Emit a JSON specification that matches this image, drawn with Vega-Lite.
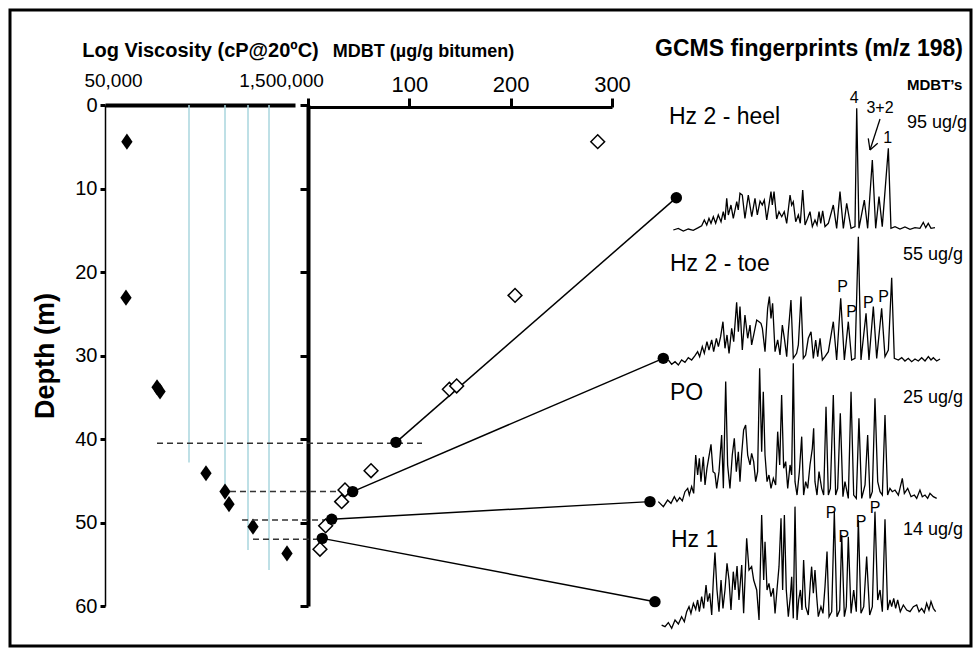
{
"$schema": "https://vega.github.io/schema/vega-lite/v6.json",
"width": 961, "height": 636,
"autosize": {"type": "none"},
"padding": {"left": 10, "top": 10, "right": 7, "bottom": 2},
"background": "white",
"config": {
  "view": {"stroke": "black", "strokeWidth": 3},
  "font": "Liberation Sans",
  "axis": {"grid": false, "labelColor": "black", "titleColor": "black", "domainColor": "black", "tickColor": "black", "labelFont": "Liberation Sans", "titleFont": "Liberation Sans"},
  "text": {"font": "Liberation Sans", "color": "black"}
},
"datasets": {
  "visc": [{"v":74000,"d":4.39},{"v":72800,"d":23.07},{"v":126900,"d":33.8},{"v":133900,"d":34.3},{"v":304900,"d":44.1},{"v":428500,"d":46.3},{"v":460300,"d":47.8},{"v":707300,"d":50.5},{"v":1299700,"d":53.7}],
  "blue": [{"v":224900,"d0":0,"d":42.8},{"v":428500,"d0":0,"d":46.8},{"v":646700,"d0":0,"d":53.3},{"v":941900,"d0":0,"d":55.7}],
  "dashed": [{"m":-149,"m2":112.5,"d":40.5},{"m":-77,"m2":44.1,"d":46.3},{"m":-65.1,"m2":23.4,"d":49.7},{"m":-54.3,"m2":14.1,"d":52.0}],
  "open": [{"m":285.9,"d":4.39},{"m":204.3,"d":22.8},{"m":139.5,"d":34.05},{"m":146.7,"d":33.65},{"m":62.2,"d":43.8},{"m":36.5,"d":46.1},{"m":33.2,"d":47.5},{"m":17.4,"d":50.4},{"m":11.8,"d":53.2}],
  "filled": [{"m":86.8,"d":40.4},{"m":44.1,"d":46.3},{"m":23.4,"d":49.6},{"m":14.1,"d":51.9},{"m":363.5,"d":11.1},{"m":350.6,"d":30.34},{"m":337.5,"d":47.5},{"m":342.4,"d":59.48}],
  "conn": [{"m":86.8,"d":40.4,"m2":363.5,"d2":11.1},{"m":44.1,"d":46.3,"m2":350.6,"d2":30.34},{"m":23.4,"d":49.6,"m2":337.5,"d2":47.5},{"m":14.1,"d":51.9,"m2":342.4,"d2":59.48}],
  "arrow": [{"m":564.5,"d":1.68,"m2":554.6,"d2":5.39},{"m":554.6,"d":5.39,"m2":552.9,"d2":3.99},{"m":554.6,"d":5.39,"m2":562.2,"d2":4.59}],
  "big": [{"m":356.2,"d":1.4,"txt":"Hz 2 - heel"},{"m":357.2,"d":19.08,"txt":"Hz 2 - toe"},{"m":357.2,"d":34.53,"txt":"PO"},{"m":358.2,"d":52.1,"txt":"Hz 1"}],
  "conc": [{"m":591.1,"d":2.2,"txt":"95 ug/g"},{"m":587.2,"d":17.96,"txt":"55 ug/g"},{"m":587.2,"d":35.13,"txt":"25 ug/g"},{"m":587.2,"d":50.9,"txt":"14 ug/g"}],
  "small": [{"m":539.1,"d":-0.87,"txt":"4"},{"m":564.5,"d":0.32,"txt":"3+2"},{"m":572.1,"d":3.91,"txt":"1"},{"m":527.6,"d":21.76,"txt":"P"},{"m":536.5,"d":24.83,"txt":"P"},{"m":552.9,"d":23.75,"txt":"P"},{"m":568.1,"d":22.96,"txt":"P"},{"m":516.1,"d":48.9,"txt":"P"},{"m":528.9,"d":51.77,"txt":"P"},{"m":545.7,"d":49.9,"txt":"P"},{"m":559.5,"d":48.3,"txt":"P"}],
  "heads": [{"m":591.1,"d":-2.4,"txt":"MDBT’s"}],
  "gtitle": [{"m":494.4,"d":-5.87,"txt":"GCMS fingerprints (m/z 198)"}],
  "traces": [
{"t":"h","x":360.5,"y":14.97},{"t":"h","x":365.4,"y":14.77},{"t":"h","x":370.4,"y":15.09},{"t":"h","x":375.3,"y":14.85},{"t":"h","x":380.2,"y":15.01},{"t":"h","x":385.2,"y":14.69},{"t":"h","x":388.5,"y":14.46},{"t":"h","x":391.1,"y":13.77},{"t":"h","x":393.5,"y":14.37},{"t":"h","x":395.7,"y":13.57},{"t":"h","x":397.7,"y":14.17},{"t":"h","x":400.0,"y":13.38},{"t":"h","x":402.3,"y":14.17},{"t":"h","x":404.9,"y":13.17},{"t":"h","x":407.6,"y":13.98},{"t":"h","x":409.8,"y":12.78},{"t":"h","x":411.5,"y":13.77},{"t":"h","x":413.2,"y":11.17},{"t":"h","x":414.8,"y":13.17},{"t":"h","x":417.4,"y":11.98},{"t":"h","x":419.7,"y":13.57},{"t":"h","x":423.1,"y":11.58},{"t":"h","x":424.6,"y":12.57},{"t":"h","x":426.3,"y":10.57},{"t":"h","x":428.6,"y":10.78},{"t":"h","x":431.2,"y":13.57},{"t":"h","x":434.5,"y":10.78},{"t":"h","x":437.9,"y":13.38},{"t":"h","x":441.1,"y":11.17},{"t":"h","x":443.4,"y":13.17},{"t":"h","x":446.1,"y":11.5},{"t":"h","x":448.3,"y":11.98},{"t":"h","x":450.3,"y":11.38},{"t":"h","x":452.7,"y":13.77},{"t":"h","x":454.9,"y":11.98},{"t":"h","x":456.9,"y":10.38},{"t":"h","x":458.2,"y":11.98},{"t":"h","x":459.9,"y":10.38},{"t":"h","x":462.5,"y":13.65},{"t":"h","x":464.8,"y":12.78},{"t":"h","x":467.5,"y":13.38},{"t":"h","x":470.0,"y":12.78},{"t":"h","x":472.4,"y":14.17},{"t":"h","x":475.7,"y":10.78},{"t":"h","x":477.3,"y":11.98},{"t":"h","x":478.9,"y":11.58},{"t":"h","x":481.3,"y":13.98},{"t":"h","x":483.9,"y":13.17},{"t":"h","x":485.8,"y":14.17},{"t":"h","x":488.2,"y":10.18},{"t":"h","x":490.5,"y":14.37},{"t":"h","x":493.1,"y":13.57},{"t":"h","x":495.4,"y":12.78},{"t":"h","x":497.7,"y":14.57},{"t":"h","x":500.3,"y":13.77},{"t":"h","x":502.3,"y":14.37},{"t":"h","x":504.3,"y":12.78},{"t":"h","x":506.0,"y":14.17},{"t":"h","x":507.9,"y":12.69},{"t":"h","x":510.2,"y":14.57},{"t":"h","x":513.5,"y":14.17},{"t":"h","x":518.4,"y":11.98},{"t":"h","x":521.7,"y":14.77},{"t":"h","x":525.0,"y":10.38},{"t":"h","x":528.3,"y":14.77},{"t":"h","x":531.6,"y":11.77},{"t":"h","x":535.9,"y":14.77},{"t":"h","x":539.8,"y":14.57},{"t":"h","x":541.5,"y":0.4},{"t":"h","x":543.7,"y":14.77},{"t":"h","x":549.0,"y":11.38},{"t":"h","x":552.3,"y":14.77},{"t":"h","x":556.9,"y":6.59},{"t":"h","x":560.2,"y":14.77},{"t":"h","x":563.5,"y":10.98},{"t":"h","x":566.7,"y":14.57},{"t":"h","x":572.7,"y":5.19},{"t":"h","x":575.3,"y":14.77},{"t":"h","x":579.3,"y":14.57},{"t":"h","x":584.2,"y":14.85},{"t":"h","x":589.1,"y":14.61},{"t":"h","x":594.1,"y":14.89},{"t":"h","x":599.0,"y":14.69},{"t":"h","x":603.9,"y":14.77},{"t":"h","x":607.2,"y":14.05},{"t":"h","x":609.6,"y":14.69},{"t":"h","x":612.1,"y":14.17},{"t":"h","x":614.8,"y":14.77},{"t":"h","x":618.7,"y":14.69},
{"t":"t","x":355.6,"y":30.54},{"t":"t","x":358.9,"y":31.06},{"t":"t","x":362.2,"y":30.74},{"t":"t","x":365.5,"y":31.14},{"t":"t","x":368.7,"y":30.54},{"t":"t","x":372.0,"y":30.82},{"t":"t","x":375.3,"y":30.26},{"t":"t","x":378.6,"y":30.54},{"t":"t","x":381.9,"y":30.02},{"t":"t","x":384.5,"y":29.54},{"t":"t","x":386.5,"y":30.14},{"t":"t","x":389.1,"y":28.94},{"t":"t","x":391.1,"y":29.74},{"t":"t","x":393.7,"y":28.34},{"t":"t","x":395.7,"y":29.34},{"t":"t","x":398.4,"y":28.14},{"t":"t","x":400.3,"y":29.54},{"t":"t","x":403.0,"y":27.94},{"t":"t","x":405.0,"y":28.94},{"t":"t","x":407.2,"y":27.74},{"t":"t","x":409.5,"y":25.95},{"t":"t","x":411.5,"y":29.14},{"t":"t","x":413.5,"y":27.54},{"t":"t","x":415.5,"y":29.74},{"t":"t","x":418.1,"y":26.75},{"t":"t","x":420.1,"y":28.34},{"t":"t","x":423.0,"y":23.63},{"t":"t","x":424.7,"y":27.15},{"t":"t","x":426.3,"y":24.15},{"t":"t","x":428.6,"y":29.34},{"t":"t","x":431.2,"y":25.15},{"t":"t","x":433.9,"y":27.94},{"t":"t","x":436.2,"y":26.35},{"t":"t","x":437.8,"y":28.74},{"t":"t","x":440.5,"y":27.15},{"t":"t","x":442.8,"y":25.75},{"t":"t","x":445.1,"y":25.95},{"t":"t","x":447.0,"y":26.15},{"t":"t","x":448.4,"y":26.75},{"t":"t","x":451.0,"y":29.54},{"t":"t","x":453.6,"y":24.35},{"t":"t","x":455.3,"y":22.95},{"t":"t","x":456.9,"y":25.55},{"t":"t","x":458.5,"y":23.75},{"t":"t","x":460.9,"y":29.54},{"t":"t","x":463.5,"y":28.14},{"t":"t","x":465.8,"y":29.94},{"t":"t","x":468.1,"y":26.35},{"t":"t","x":470.1,"y":27.94},{"t":"t","x":472.4,"y":30.14},{"t":"t","x":474.0,"y":27.15},{"t":"t","x":476.6,"y":23.35},{"t":"t","x":478.9,"y":30.34},{"t":"t","x":482.2,"y":29.74},{"t":"t","x":483.9,"y":28.74},{"t":"t","x":486.5,"y":22.95},{"t":"t","x":488.8,"y":30.34},{"t":"t","x":491.1,"y":29.94},{"t":"t","x":493.7,"y":27.94},{"t":"t","x":496.4,"y":27.15},{"t":"t","x":498.7,"y":30.34},{"t":"t","x":501.0,"y":28.14},{"t":"t","x":503.0,"y":30.14},{"t":"t","x":505.3,"y":27.94},{"t":"t","x":507.6,"y":30.54},{"t":"t","x":510.2,"y":30.14},{"t":"t","x":513.5,"y":29.54},{"t":"t","x":518.4,"y":25.95},{"t":"t","x":521.7,"y":30.54},{"t":"t","x":525.7,"y":23.15},{"t":"t","x":529.3,"y":30.54},{"t":"t","x":533.2,"y":25.95},{"t":"t","x":536.5,"y":30.54},{"t":"t","x":539.8,"y":30.34},{"t":"t","x":543.1,"y":15.77},{"t":"t","x":545.7,"y":30.54},{"t":"t","x":550.7,"y":24.95},{"t":"t","x":553.6,"y":30.54},{"t":"t","x":557.9,"y":24.15},{"t":"t","x":561.2,"y":30.34},{"t":"t","x":566.1,"y":24.35},{"t":"t","x":569.4,"y":30.14},{"t":"t","x":572.7,"y":29.34},{"t":"t","x":576.0,"y":20.68},{"t":"t","x":578.6,"y":30.34},{"t":"t","x":582.6,"y":30.54},{"t":"t","x":585.9,"y":30.26},{"t":"t","x":589.1,"y":30.66},{"t":"t","x":592.4,"y":30.34},{"t":"t","x":595.7,"y":30.74},{"t":"t","x":599.0,"y":30.42},{"t":"t","x":602.3,"y":30.66},{"t":"t","x":605.6,"y":30.26},{"t":"t","x":608.9,"y":30.66},{"t":"t","x":612.2,"y":30.14},{"t":"t","x":614.8,"y":30.54},{"t":"t","x":617.1,"y":30.26},{"t":"t","x":620.4,"y":30.66},{"t":"t","x":623.7,"y":30.42},
{"t":"p","x":345.7,"y":47.5},{"t":"p","x":350.7,"y":48.1},{"t":"p","x":354.9,"y":47.31},{"t":"p","x":358.2,"y":47.7},{"t":"p","x":361.5,"y":46.91},{"t":"p","x":364.1,"y":47.5},{"t":"p","x":366.8,"y":47.03},{"t":"p","x":369.4,"y":47.42},{"t":"p","x":372.0,"y":46.31},{"t":"p","x":374.7,"y":45.91},{"t":"p","x":376.3,"y":46.71},{"t":"p","x":378.6,"y":45.71},{"t":"p","x":380.6,"y":46.51},{"t":"p","x":382.6,"y":41.92},{"t":"p","x":384.5,"y":44.31},{"t":"p","x":386.2,"y":42.32},{"t":"p","x":387.8,"y":45.11},{"t":"p","x":390.1,"y":42.12},{"t":"p","x":391.8,"y":45.51},{"t":"p","x":393.7,"y":43.51},{"t":"p","x":397.7,"y":40.64},{"t":"p","x":399.7,"y":43.91},{"t":"p","x":401.6,"y":44.11},{"t":"p","x":403.3,"y":45.91},{"t":"p","x":405.6,"y":43.91},{"t":"p","x":408.2,"y":39.52},{"t":"p","x":409.9,"y":45.91},{"t":"p","x":412.2,"y":33.13},{"t":"p","x":414.1,"y":43.11},{"t":"p","x":416.4,"y":45.91},{"t":"p","x":418.7,"y":41.92},{"t":"p","x":420.7,"y":39.92},{"t":"p","x":422.7,"y":43.91},{"t":"p","x":424.7,"y":41.52},{"t":"p","x":426.3,"y":45.11},{"t":"p","x":427.9,"y":41.92},{"t":"p","x":429.9,"y":38.92},{"t":"p","x":431.9,"y":38.32},{"t":"p","x":433.9,"y":41.92},{"t":"p","x":436.2,"y":43.11},{"t":"p","x":437.8,"y":41.72},{"t":"p","x":439.8,"y":42.71},{"t":"p","x":441.8,"y":45.11},{"t":"p","x":443.7,"y":43.91},{"t":"p","x":445.7,"y":31.54},{"t":"p","x":447.7,"y":41.52},{"t":"p","x":449.3,"y":34.33},{"t":"p","x":451.0,"y":41.92},{"t":"p","x":453.0,"y":45.11},{"t":"p","x":454.9,"y":44.31},{"t":"p","x":456.9,"y":45.91},{"t":"p","x":459.2,"y":44.71},{"t":"p","x":461.5,"y":45.51},{"t":"p","x":463.5,"y":39.12},{"t":"p","x":465.5,"y":43.11},{"t":"p","x":467.4,"y":34.73},{"t":"p","x":469.4,"y":43.51},{"t":"p","x":471.4,"y":42.71},{"t":"p","x":473.4,"y":45.91},{"t":"p","x":475.7,"y":43.11},{"t":"p","x":477.3,"y":44.31},{"t":"p","x":478.9,"y":30.94},{"t":"p","x":480.6,"y":45.11},{"t":"p","x":482.6,"y":46.71},{"t":"p","x":484.9,"y":43.91},{"t":"p","x":487.2,"y":39.72},{"t":"p","x":489.1,"y":46.71},{"t":"p","x":491.1,"y":45.11},{"t":"p","x":493.1,"y":45.91},{"t":"p","x":495.4,"y":43.11},{"t":"p","x":497.7,"y":41.12},{"t":"p","x":499.0,"y":38.72},{"t":"p","x":500.3,"y":45.11},{"t":"p","x":502.3,"y":46.71},{"t":"p","x":504.3,"y":43.91},{"t":"p","x":506.9,"y":45.91},{"t":"p","x":508.9,"y":46.71},{"t":"p","x":511.2,"y":36.13},{"t":"p","x":513.5,"y":46.71},{"t":"p","x":515.5,"y":45.91},{"t":"p","x":518.4,"y":34.73},{"t":"p","x":520.7,"y":46.71},{"t":"p","x":522.7,"y":45.91},{"t":"p","x":525.3,"y":36.93},{"t":"p","x":527.9,"y":46.91},{"t":"p","x":529.9,"y":45.11},{"t":"p","x":533.2,"y":47.11},{"t":"p","x":535.9,"y":34.33},{"t":"p","x":538.5,"y":46.71},{"t":"p","x":541.1,"y":47.11},{"t":"p","x":543.7,"y":37.52},{"t":"p","x":546.4,"y":47.11},{"t":"p","x":549.7,"y":45.51},{"t":"p","x":552.3,"y":39.52},{"t":"p","x":554.6,"y":47.11},{"t":"p","x":556.9,"y":46.31},{"t":"p","x":559.5,"y":35.13},{"t":"p","x":562.2,"y":45.11},{"t":"p","x":564.5,"y":46.31},{"t":"p","x":566.8,"y":46.71},{"t":"p","x":569.4,"y":37.13},{"t":"p","x":572.0,"y":46.71},{"t":"p","x":574.3,"y":45.91},{"t":"p","x":576.6,"y":46.31},{"t":"p","x":579.3,"y":46.11},{"t":"p","x":582.6,"y":46.71},{"t":"p","x":586.5,"y":44.71},{"t":"p","x":588.5,"y":46.51},{"t":"p","x":591.8,"y":45.91},{"t":"p","x":595.1,"y":46.91},{"t":"p","x":598.4,"y":46.71},{"t":"p","x":600.7,"y":47.11},{"t":"p","x":603.9,"y":46.11},{"t":"p","x":606.2,"y":46.91},{"t":"p","x":608.9,"y":46.71},{"t":"p","x":611.5,"y":47.11},{"t":"p","x":613.8,"y":46.51},{"t":"p","x":617.1,"y":46.91},{"t":"p","x":620.4,"y":47.11},
{"t":"z","x":349.0,"y":62.28},{"t":"z","x":352.3,"y":62.47},{"t":"z","x":355.6,"y":61.98},{"t":"z","x":358.9,"y":62.67},{"t":"z","x":362.2,"y":61.68},{"t":"z","x":365.5,"y":62.15},{"t":"z","x":368.7,"y":61.28},{"t":"z","x":371.4,"y":61.88},{"t":"z","x":373.7,"y":60.68},{"t":"z","x":376.0,"y":60.08},{"t":"z","x":377.9,"y":60.88},{"t":"z","x":380.3,"y":59.68},{"t":"z","x":382.6,"y":60.4},{"t":"z","x":384.5,"y":59.28},{"t":"z","x":386.2,"y":60.68},{"t":"z","x":388.5,"y":58.88},{"t":"z","x":390.5,"y":60.28},{"t":"z","x":392.8,"y":57.48},{"t":"z","x":394.4,"y":59.48},{"t":"z","x":396.4,"y":58.48},{"t":"z","x":398.4,"y":61.08},{"t":"z","x":400.0,"y":56.89},{"t":"z","x":401.6,"y":53.61},{"t":"z","x":403.6,"y":58.08},{"t":"z","x":405.6,"y":60.68},{"t":"z","x":407.6,"y":56.89},{"t":"z","x":409.5,"y":60.28},{"t":"z","x":411.5,"y":58.08},{"t":"z","x":413.5,"y":54.89},{"t":"z","x":415.5,"y":56.89},{"t":"z","x":417.4,"y":60.48},{"t":"z","x":419.7,"y":55.89},{"t":"z","x":421.4,"y":58.08},{"t":"z","x":423.4,"y":55.21},{"t":"z","x":425.3,"y":59.28},{"t":"z","x":428.0,"y":55.09},{"t":"z","x":429.9,"y":60.88},{"t":"z","x":432.9,"y":51.9},{"t":"z","x":435.2,"y":55.69},{"t":"z","x":437.8,"y":55.29},{"t":"z","x":439.8,"y":56.89},{"t":"z","x":442.8,"y":58.08},{"t":"z","x":445.1,"y":61.68},{"t":"z","x":447.7,"y":49.1},{"t":"z","x":449.7,"y":56.89},{"t":"z","x":451.0,"y":52.3},{"t":"z","x":453.0,"y":58.08},{"t":"z","x":454.9,"y":57.29},{"t":"z","x":456.9,"y":58.88},{"t":"z","x":459.2,"y":57.88},{"t":"z","x":460.9,"y":60.88},{"t":"z","x":462.8,"y":58.08},{"t":"z","x":464.8,"y":55.29},{"t":"z","x":466.8,"y":49.5},{"t":"z","x":468.4,"y":58.08},{"t":"z","x":470.1,"y":49.1},{"t":"z","x":472.0,"y":58.08},{"t":"z","x":474.0,"y":61.28},{"t":"z","x":476.0,"y":58.88},{"t":"z","x":477.3,"y":56.49},{"t":"z","x":478.9,"y":61.48},{"t":"z","x":480.6,"y":48.1},{"t":"z","x":482.6,"y":61.68},{"t":"z","x":484.2,"y":59.28},{"t":"z","x":485.9,"y":58.08},{"t":"z","x":487.5,"y":60.48},{"t":"z","x":489.1,"y":54.49},{"t":"z","x":491.1,"y":60.08},{"t":"z","x":493.7,"y":61.08},{"t":"z","x":495.7,"y":57.29},{"t":"z","x":497.0,"y":55.29},{"t":"z","x":498.7,"y":58.48},{"t":"z","x":500.3,"y":55.69},{"t":"z","x":502.0,"y":58.88},{"t":"z","x":503.6,"y":61.28},{"t":"z","x":506.2,"y":60.08},{"t":"z","x":508.2,"y":60.88},{"t":"z","x":510.2,"y":57.68},{"t":"z","x":512.2,"y":53.49},{"t":"z","x":514.2,"y":61.28},{"t":"z","x":516.8,"y":60.68},{"t":"z","x":519.4,"y":48.7},{"t":"z","x":522.0,"y":61.28},{"t":"z","x":524.7,"y":60.48},{"t":"z","x":526.7,"y":51.5},{"t":"z","x":529.3,"y":61.28},{"t":"z","x":531.2,"y":60.08},{"t":"z","x":533.2,"y":51.7},{"t":"z","x":535.9,"y":60.88},{"t":"z","x":538.5,"y":58.08},{"t":"z","x":541.1,"y":60.68},{"t":"z","x":543.1,"y":49.7},{"t":"z","x":545.7,"y":60.88},{"t":"z","x":548.4,"y":60.08},{"t":"z","x":551.3,"y":54.09},{"t":"z","x":554.3,"y":61.08},{"t":"z","x":556.9,"y":60.08},{"t":"z","x":559.5,"y":48.7},{"t":"z","x":562.2,"y":59.28},{"t":"z","x":564.5,"y":58.08},{"t":"z","x":566.8,"y":60.68},{"t":"z","x":569.4,"y":49.62},{"t":"z","x":572.0,"y":60.48},{"t":"z","x":574.3,"y":59.28},{"t":"z","x":576.0,"y":60.08},{"t":"z","x":578.0,"y":59.08},{"t":"z","x":579.9,"y":60.28},{"t":"z","x":581.9,"y":59.28},{"t":"z","x":584.5,"y":60.68},{"t":"z","x":587.5,"y":59.88},{"t":"z","x":590.8,"y":60.48},{"t":"z","x":594.1,"y":60.68},{"t":"z","x":597.4,"y":60.08},{"t":"z","x":600.7,"y":59.88},{"t":"z","x":603.0,"y":60.68},{"t":"z","x":605.6,"y":60.28},{"t":"z","x":608.2,"y":60.8},{"t":"z","x":610.5,"y":59.68},{"t":"z","x":612.8,"y":60.48},{"t":"z","x":614.8,"y":59.48},{"t":"z","x":617.1,"y":60.28},{"t":"z","x":619.4,"y":60.68}
  ]
},
"resolve": {"scale": {"x": "independent"}, "axis": {"x": "independent", "y": "independent"}},
"layer": [
  {
    "layer": [
      {
        "data": {"name": "blue"},
        "mark": {"type": "rule", "color": "#a9d6de", "strokeWidth": 1.5},
        "encoding": {
          "x": {"field": "v", "type": "quantitative",
                "scale": {"type": "log", "domain": [50000, 1500000], "range": [95, 285], "nice": false},
                "axis": {"orient": "top", "offset": -95, "values": [50000, 1500000], "format": ",", "ticks": false, "tickSize": 0, "domainWidth": 4, "labelFontSize": 19, "labelPadding": 15, "labelFlush": false,
                         "labelOffset": {"condition": {"test": "datum.value > 100000", "value": -14}, "value": 8},
                         "title": "Log Viscosity (cP@20ºC)", "titleFontSize": 20, "titleFontWeight": "bold", "titleY": -49, "titleBaseline": "alphabetic"}},
          "y": {"field": "d0", "type": "quantitative", "scale": {"domain": [0, 60], "range": [95, 596], "nice": false, "zero": false}},
          "y2": {"field": "d"}
        }
      },
      {
        "data": {"name": "visc"},
        "mark": {"type": "point", "shape": "M0,-1L0.7,0L0,1L-0.7,0Z", "filled": true, "color": "black", "size": 260, "opacity": 1},
        "encoding": {
          "x": {"field": "v", "type": "quantitative"},
          "y": {"field": "d", "type": "quantitative",
                "axis": {"orient": "left", "offset": -95, "values": [0, 10, 20, 30, 40, 50, 60], "tickSize": 5, "tickWidth": 3, "domainWidth": 1.5, "labelFontSize": 20, "labelPadding": 3,
                         "title": "Depth (m)", "titleFontSize": 27, "titleFontWeight": "bold", "titleX": -60, "titleBaseline": "middle"}}
        }
      }
    ]
  },
  {
    "layer": [
      {
        "data": {"name": "dashed"},
        "mark": {"type": "rule", "color": "#333333", "strokeWidth": 1.5, "strokeDash": [6, 4]},
        "encoding": {
          "x": {"field": "m", "type": "quantitative",
                "scale": {"domain": [0, 300], "range": [298, 602], "nice": false, "zero": false},
                "axis": {"orient": "top", "offset": -97, "values": [0, 100, 200, 300], "labelExpr": "datum.value == 0 ? '' : datum.label", "tickSize": 9, "tickWidth": 3, "domainWidth": 3, "labelFontSize": 22, "labelPadding": 2, "labelFlush": false,
                         "title": "MDBT (µg/g bitumen)", "titleFontSize": 18, "titleFontWeight": "bold", "titleX": 413, "titleY": -51, "titleAlign": "center", "titleBaseline": "alphabetic"}},
          "x2": {"field": "m2"},
          "y": {"field": "d", "type": "quantitative",
                "scale": {"domain": [0, 60], "range": [95, 596], "nice": false, "zero": false},
                "axis": {"orient": "left", "offset": -298, "values": [0, 10, 20, 30, 40, 50, 60], "labels": false, "tickSize": 8, "tickWidth": 3, "domainWidth": 4, "title": null}}
        }
      },
      {
        "data": {"name": "conn"},
        "mark": {"type": "rule", "color": "black", "strokeWidth": 1.5},
        "encoding": {
          "x": {"field": "m", "type": "quantitative"}, "x2": {"field": "m2"},
          "y": {"field": "d", "type": "quantitative"}, "y2": {"field": "d2"}
        }
      },
      {
        "data": {"name": "traces"},
        "mark": {"type": "line", "color": "black", "strokeWidth": 1.3},
        "encoding": {
          "x": {"field": "x", "type": "quantitative"},
          "y": {"field": "y", "type": "quantitative"},
          "detail": {"field": "t"}
        }
      },
      {
        "data": {"name": "arrow"},
        "mark": {"type": "rule", "color": "black", "strokeWidth": 1.3},
        "encoding": {
          "x": {"field": "m", "type": "quantitative"}, "x2": {"field": "m2"},
          "y": {"field": "d", "type": "quantitative"}, "y2": {"field": "d2"}
        }
      },
      {
        "data": {"name": "open"},
        "mark": {"type": "point", "shape": "diamond", "fill": "white", "stroke": "black", "strokeWidth": 1.5, "size": 190, "opacity": 1, "filled": true},
        "encoding": {
          "x": {"field": "m", "type": "quantitative"},
          "y": {"field": "d", "type": "quantitative"}
        }
      },
      {
        "data": {"name": "filled"},
        "mark": {"type": "point", "shape": "circle", "filled": true, "color": "black", "size": 130, "opacity": 1},
        "encoding": {
          "x": {"field": "m", "type": "quantitative"},
          "y": {"field": "d", "type": "quantitative"}
        }
      },
      {
        "data": {"name": "big"},
        "mark": {"type": "text", "align": "left", "baseline": "middle", "fontSize": 23},
        "encoding": {
          "x": {"field": "m", "type": "quantitative"},
          "y": {"field": "d", "type": "quantitative"},
          "text": {"field": "txt"}
        }
      },
      {
        "data": {"name": "conc"},
        "mark": {"type": "text", "align": "left", "baseline": "middle", "fontSize": 18},
        "encoding": {
          "x": {"field": "m", "type": "quantitative"},
          "y": {"field": "d", "type": "quantitative"},
          "text": {"field": "txt"}
        }
      },
      {
        "data": {"name": "small"},
        "mark": {"type": "text", "align": "center", "baseline": "middle", "fontSize": 16, "color": "black"},
        "encoding": {
          "x": {"field": "m", "type": "quantitative"},
          "y": {"field": "d", "type": "quantitative"},
          "text": {"field": "txt"}
        }
      },
      {
        "data": {"name": "heads"},
        "mark": {"type": "text", "align": "left", "baseline": "middle", "fontSize": 15, "fontWeight": "bold"},
        "encoding": {
          "x": {"field": "m", "type": "quantitative"},
          "y": {"field": "d", "type": "quantitative"},
          "text": {"field": "txt"}
        }
      },
      {
        "data": {"name": "gtitle"},
        "mark": {"type": "text", "align": "center", "baseline": "alphabetic", "fontSize": 23, "fontWeight": "bold"},
        "encoding": {
          "x": {"field": "m", "type": "quantitative"},
          "y": {"field": "d", "type": "quantitative"},
          "text": {"field": "txt"}
        }
      }
    ]
  }
]
}
